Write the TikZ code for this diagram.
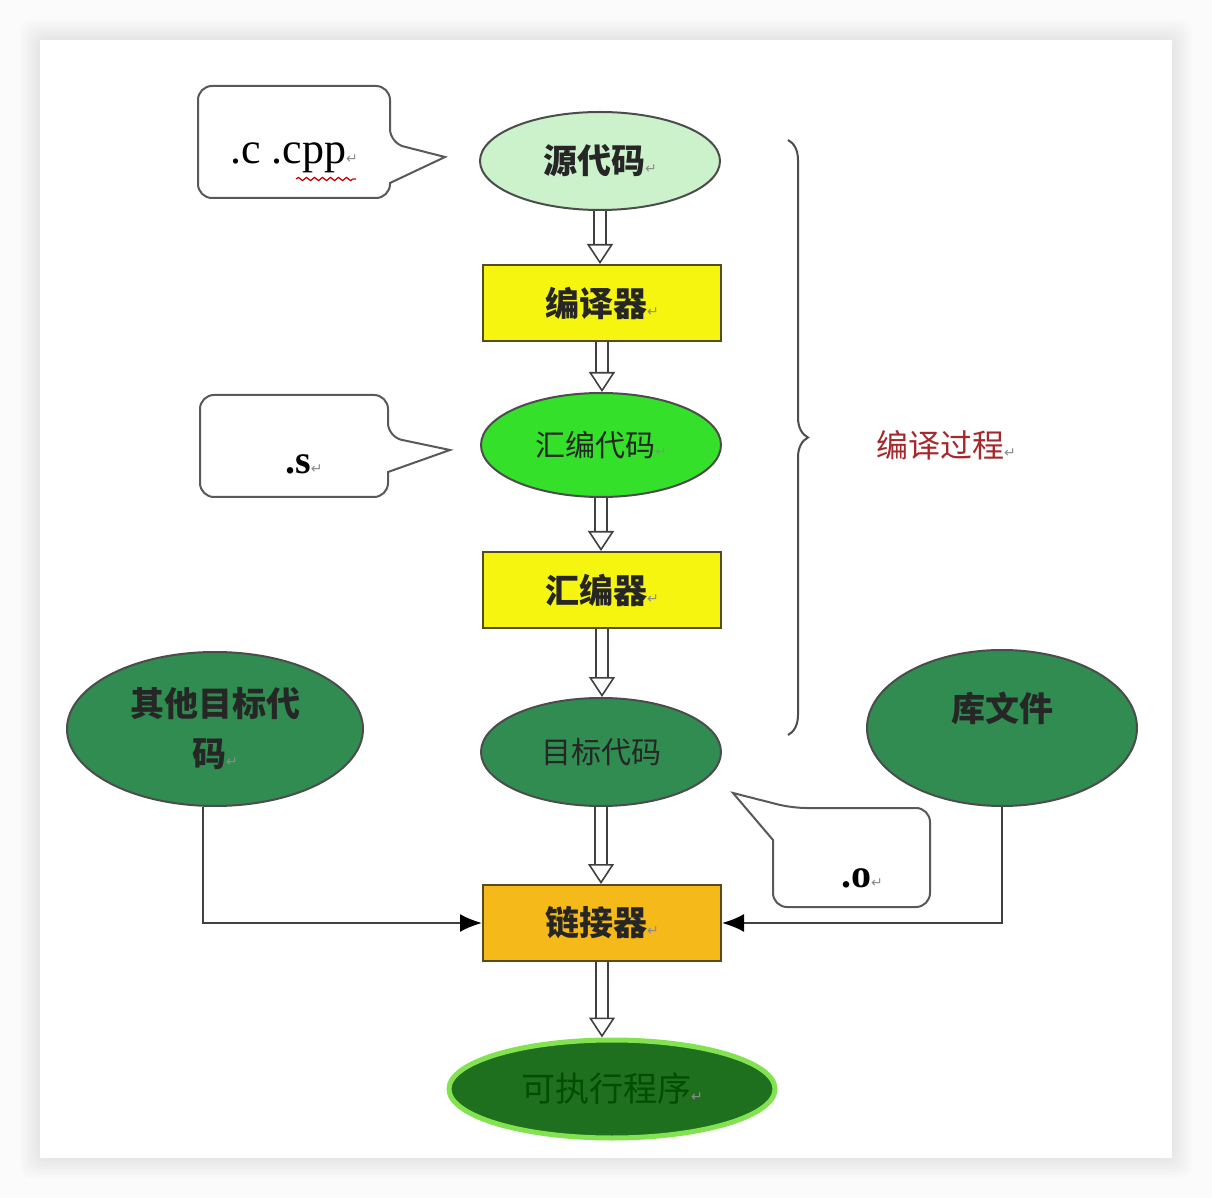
\documentclass[tikz,border=0pt]{standalone}
\usepackage{fontspec}
\setmainfont{Liberation Serif}
\newfontfamily\cjk{Noto Sans CJK SC}
\newfontfamily\dejavu{DejaVu Sans}
\usepackage{tikz}
\usetikzlibrary{shapes.geometric,% ellipses for the code nodes
arrows.meta,%               arrow tips
decorations.pathreplacing,% brace decoration
decorations.pathmorphing,%  wavy underline
decorations.markings}%      hollow heads on the double lines
\definecolor{mint}{RGB}{204,242,204}
\definecolor{asmgreen}{RGB}{52,224,42}
\definecolor{objgreen}{RGB}{48,140,80}
\definecolor{exegreen}{RGB}{30,112,30}
\definecolor{glowgreen}{RGB}{130,226,80}
\definecolor{boxyellow}{RGB}{245,245,15}
\definecolor{linkamber}{RGB}{245,185,25}
\definecolor{boxedge}{RGB}{85,75,30}
\definecolor{phasered}{RGB}{165,40,45}
\newcommand{\retmark}{{\dejavu\mdseries\fontsize{7}{7}\selectfont\color{black!45}↵}}
\tikzset{every node/.style={font=\cjk\bfseries\fontsize{17}{21}\selectfont, text=black!85}}

\begin{document}
\begin{tikzpicture}[x=0.5pt, y=-0.5pt,
  oval/.style={ellipse, draw=black!70, line width=1pt, inner sep=0pt},
  box/.style={rectangle, draw=boxedge, line width=1pt, fill=boxyellow,
    minimum width=119pt, minimum height=38pt},
  note/.style={draw=black!65, line width=1pt, fill=white},
  latin/.style={font=\rmfamily\fontsize{22}{26}\selectfont, text=black},
  feed/.style={draw=black!75, line width=1pt, -{Latex[length=11pt,width=9pt,black]}},
  dbl/.style={double, double distance=5pt, line width=0.8pt, draw=black!75,
    shorten >=8pt,
    postaction={decorate, decoration={markings, mark=at position 1 with
      {\pgfsetinnerlinewidth{0pt}\arrow[black!75]{Triangle[length=10pt,width=13pt,line width=0.8pt,fill=white]}}}}}]
  \useasboundingbox (0,0) rectangle (1212,1198);
  % page and its shadow
  \fill[gray!3] (0,0) rectangle (1212,1198);
  \foreach \s in {2,5,...,20}
    \fill[black, opacity=0.01, rounded corners=6pt] ({40-\s},{40-\s}) rectangle ({1172+\s},{1158+\s});
  \fill[white] (40,40) rectangle (1172,1158);

  % call-outs
  \draw[note] (198,140) [rounded corners=7pt] -- (198,86) -- (390,86) -- (390,143)
    [sharp corners] -- (445,157) -- (390,183) [rounded corners=7pt] -- (390,198) -- (198,198) -- cycle;
  \draw[note] (200,440) [rounded corners=7pt] -- (200,395) -- (388,395) -- (388,437)
    [sharp corners] -- (450,450) -- (388,472) [rounded corners=7pt] -- (388,497) -- (200,497) -- cycle;
  \draw[note] (850,907) [rounded corners=7pt] -- (930,907) -- (930,808) -- (792,808)
    [sharp corners] -- (733,793) -- (773,840) [rounded corners=7pt] -- (773,907) -- cycle;
  \node[latin] (cppnote) at (294,158) {.c .cpp\retmark};
  \draw[red!80!black, line width=0.6pt, decorate, decoration={snake, amplitude=0.8pt, segment length=4pt}]
    (296,179) -- (356,179);
  \node[latin, font=\rmfamily\bfseries\fontsize{20}{24}\selectfont] (snote) at (304,464) {.s\retmark};
  \node[latin, font=\rmfamily\bfseries\fontsize{20}{24}\selectfont] (onote) at (862,878) {.o\retmark};

  % code nodes
  \node[oval, fill=mint, minimum width=120pt, minimum height=49pt] (src) at (600,161) {源代码\retmark};
  \node[box] (comp) at (602,303) {编译器\retmark};
  \node[oval, fill=asmgreen, minimum width=120pt, minimum height=52pt,
    font=\cjk\fontsize{15}{18}\selectfont] (asmcode) at (601,445) {汇编代码\retmark};
  \node[box] (asmbler) at (602,590) {汇编器\retmark};
  \node[oval, fill=objgreen, minimum width=120pt, minimum height=54pt,
    font=\cjk\fontsize{15}{18}\selectfont] (obj) at (601,752) {目标代码};
  \node[oval, fill=objgreen, minimum width=148pt, minimum height=77pt, align=center,
    font=\cjk\bfseries\fontsize{17}{25}\selectfont] (other) at (215,729) {其他目标代\\码\retmark};
  \node[oval, fill=objgreen, minimum width=135pt, minimum height=78pt,
    label={[yshift=10pt]center:库文件}] (lib) at (1002,728) {};
  \node[box, fill=linkamber] (linker) at (602,923) {链接器\retmark};
  \node[oval, fill=exegreen, draw=glowgreen, line width=2.5pt, minimum width=163pt,
    minimum height=49pt, text=black!70!green, font=\cjk\fontsize{17}{21}\selectfont] (exe) at (612,1089) {可执行程序\retmark};

  % compile phase brace
  \draw[black!70, line width=1pt, decorate, decoration={brace, amplitude=10pt}] (788,140) -- (788,735);
  \node[text=phasered, font=\cjk\fontsize{16}{20}\selectfont] (phase) at (946,445) {编译过程\retmark};

  % connectors
  \foreach \a/\b in {src/comp,comp/asmcode,asmcode/asmbler,asmbler/obj,obj/linker,linker/exe}
    \draw[dbl] (\a.south) -- (\a.south |- \b.north);
  \draw[feed] (other.-99) |- (linker.west);
  \draw[feed] (lib.south) |- (linker.east);
\end{tikzpicture}
\end{document}
